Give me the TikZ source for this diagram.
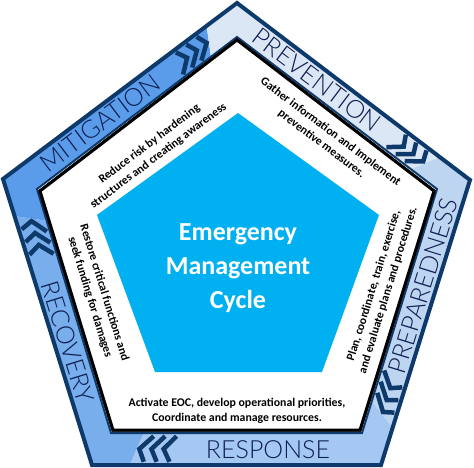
\documentclass[tikz,border=0pt]{standalone}
\usepackage{fontspec}
\setmainfont{Carlito}
\IfFontExistsTF{Lato Light}{\newfontfamily\labfont{Lato Light}}{\newfontfamily\labfont{Lato}}
\usetikzlibrary{calc}
\definecolor{navy}{HTML}{0E3A6B}
\definecolor{labnavy}{HTML}{0F1E52}
\definecolor{cmit}{HTML}{5A9CE9}
\definecolor{cprev}{HTML}{DCE7F5}
\definecolor{cprep}{HTML}{BDD5F1}
\definecolor{cresp}{HTML}{A4C8F1}
\definecolor{crec}{HTML}{78AEEC}
\definecolor{ccyan}{HTML}{00B0F0}
\tikzset{
  chevline/.style={draw=navy,line width=4.5pt,line join=miter},
  lab/.style={font=\labfont\fontsize{25}{25}\selectfont,text=labnavy,inner sep=0pt},
  desc/.style={font=\bfseries\fontsize{11.8}{15}\selectfont,align=center,inner sep=0pt},
}
\newcommand\bandseg[7]{\fill[#7] ($(#1)!0.87!(#2)$) -- (#2) -- ($(#2)!0.87!(#3)$) -- ($(#5)!0.87!(#6)$) -- (#5) -- ($(#4)!0.87!(#5)$) -- cycle;}
\newcommand\chevs[4]{%
  \foreach \f/\g in {0.735/0.77,0.78/0.815,0.825/0.86}{%
    \coordinate (q1) at ($(#1)!\f!(#2)$);
    \coordinate (q2) at ($(#3)!\f!(#4)$);
    \coordinate (q3) at ($(#1)!\g!(#2)$);
    \coordinate (q4) at ($(#3)!\g!(#4)$);
    \draw[chevline] ($(q1)!0.1!(q2)$) -- ($(q3)!0.5!(q4)$) -- ($(q2)!0.1!(q1)$);
  }}
\begin{document}
\begin{tikzpicture}[x=1pt,y=-1pt]
\useasboundingbox (0,0) rectangle (474,468);
% outer pentagon
\coordinate (oT) at (237,3);
\coordinate (oL) at (3,179);
\coordinate (oR) at (470,180);
\coordinate (oBR) at (381,465);
\coordinate (oBL) at (92,465);
% inner band edge
\coordinate (iT) at (237,37);
\coordinate (iL) at (37,189);
\coordinate (iR) at (437,189);
\coordinate (iBR) at (362,433);
\coordinate (iBL) at (111,433);
% white pentagon
\coordinate (wT) at (237,40);
\coordinate (wL) at (40,191);
\coordinate (wR) at (434,191);
\coordinate (wBR) at (360,430);
\coordinate (wBL) at (113,430);
% cyan pentagon
\coordinate (cT) at (238,113);
\coordinate (cL) at (97,215);
\coordinate (cR) at (379,215);
\coordinate (cBR) at (322,372);
\coordinate (cBL) at (155,372);
% band segments
\bandseg{oBL}{oL}{oT}{iBL}{iL}{iT}{cmit}
\bandseg{oL}{oT}{oR}{iL}{iT}{iR}{cprev}
\bandseg{oT}{oR}{oBR}{iT}{iR}{iBR}{cprep}
\bandseg{oR}{oBR}{oBL}{iR}{iBR}{iBL}{cresp}
\bandseg{oBR}{oBL}{oL}{iBR}{iBL}{iL}{crec}
% chevrons
\chevs{oL}{oT}{iL}{iT}
\chevs{oT}{oR}{iT}{iR}
\chevs{oR}{oBR}{iR}{iBR}
\chevs{oBR}{oBL}{iBR}{iBL}
\chevs{oBL}{oL}{iBL}{iL}
% borders
\draw[navy,line width=4pt,line join=miter] (oT) -- (oR) -- (oBR) -- (oBL) -- (oL) -- cycle;
\draw[navy,line width=2pt,line join=miter] (iT) -- (iR) -- (iBR) -- (iBL) -- (iL) -- cycle;
\draw[black,line width=3pt,line join=miter,shift={(1.5,1.5)}] (wT) -- (wR) -- (wBR) -- (wBL) -- (wL) -- cycle;
\filldraw[fill=white,draw=black,line width=3pt,line join=miter] (wT) -- (wR) -- (wBR) -- (wBL) -- (wL) -- cycle;
% cyan pentagon
\fill[ccyan] (cT) -- (cR) -- (cBR) -- (cBL) -- (cL) -- cycle;
\node[font=\bfseries\fontsize{26}{34}\selectfont,text=white,align=center] (title) at (238,268) {Emergency\\Management\\Cycle};
% band labels
\node[lab,rotate=37] (mit) at (100,123) {MITIGATION};
\node[lab,rotate=-37] (prev) at (317,80) {PREVENTION};
\node[lab,rotate=72.8] (prep) at (423,286) {PREPAREDNESS};
\node[lab] (resp) at (268,450) {RESPONSE};
\node[lab,rotate=-72.8] (rec) at (68,342) {RECOVERY};
% descriptions
\node[desc,rotate=37] (dmit) at (154,150) {Reduce risk by hardening\\structures and creating awareness};
\node[desc,rotate=-37] (dprev) at (326,138) {Gather information and Implement\\preventive measures.};
\node[desc,rotate=72.8] (dprep) at (381,288) {Plan, coordinate, train, exercise,\\and evaluate plans and procedures.};
\node[desc,rotate=-72.8] (drec) at (97,295) {Restore critical functions and\\seek funding for damages};
\node[desc] (dresp) at (237,411) {Activate EOC, develop operational priorities,\\Coordinate and manage resources.};
\end{tikzpicture}
\end{document}
